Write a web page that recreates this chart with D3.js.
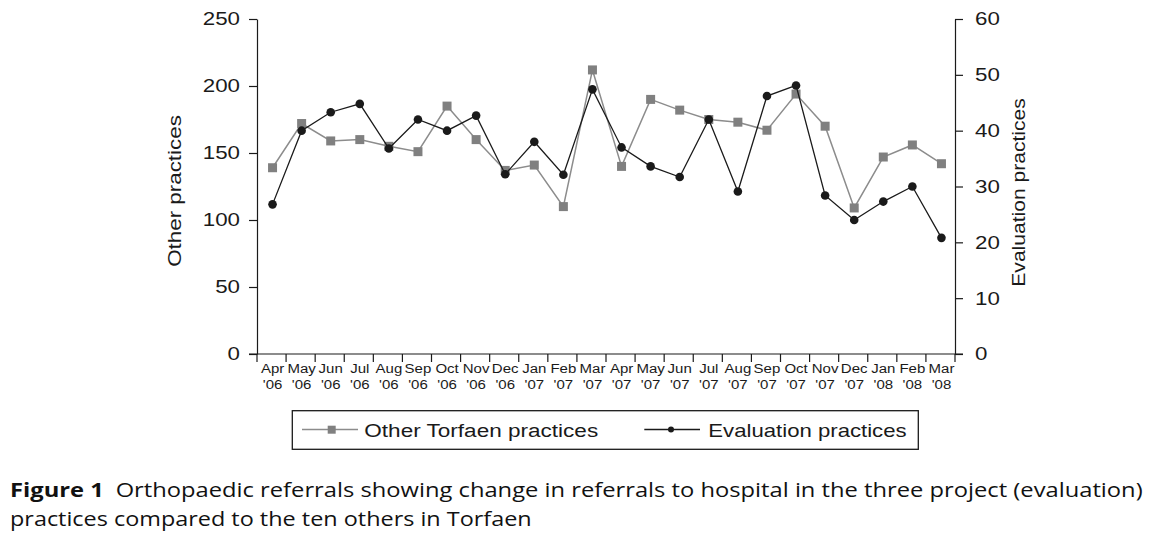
<!DOCTYPE html>
<html><head><meta charset="utf-8">
<script src="https://cdn.jsdelivr.net/npm/d3@7"></script>
<style>body{margin:0;background:#fff;}svg{display:block;}</style>
</head><body>
<svg id="c" width="1163" height="546"></svg>
<script>
const months = ["Apr","May","Jun","Jul","Aug","Sep","Oct","Nov","Dec","Jan","Feb","Mar","Apr","May","Jun","Jul","Aug","Sep","Oct","Nov","Dec","Jan","Feb","Mar"];
const years = ["'06","'06","'06","'06","'06","'06","'06","'06","'06","'07","'07","'07","'07","'07","'07","'07","'07","'07","'07","'07","'07","'08","'08","'08"];
const otherPractices = [139,172,159,160,155,151,185,160,137,141,110,212,140,190,182,175,173,167,194,170,109,147,156,142];
const evaluationPractices = [26.8,40.0,43.3,44.8,36.8,42.0,40.0,42.7,32.2,38.0,32.1,47.4,37.0,33.6,31.7,42.0,29.1,46.2,48.1,28.4,24.0,27.3,30.0,20.8];
const leftTicks = [0,50,100,150,200,250];
const rightTicks = [0,10,20,30,40,50,60];

const svg = d3.select("#c");
const L = 257, R = 955, T = 19, B = 354;
const SX = 1.2, FS = 18.6, INK = "#1a1a1a";
const idx = d3.range(months.length);
const x = d3.scaleBand().domain(idx).range([L, R]);
const yL = d3.scaleLinear().domain([0,250]).range([B,T]);
const yR = d3.scaleLinear().domain([0,60]).range([B,T]);
const font = "'Liberation Sans', Arial, sans-serif";

function widen(sel, sx){
  sel.each(function(){
    const t = d3.select(this);
    const xx = +(t.attr("x")||0);
    t.attr("x", xx/sx).attr("transform", `scale(${sx},1)`);
  });
}
// fit a text element (drawn at origin) to target length along its own direction
function fitText(sel, target){
  const w = sel.node().getComputedTextLength();
  return target / w;
}

// left axis
const gl = svg.append("g").attr("transform",`translate(${L},0)`)
  .call(d3.axisLeft(yL).tickValues(leftTicks).tickSize(8).tickSizeOuter(0).tickPadding(9));
gl.selectAll("text").attr("font-size",FS).attr("font-family",font).attr("fill",INK);
widen(gl.selectAll("text"), SX);
// right axis
const gr = svg.append("g").attr("transform",`translate(${R},0)`)
  .call(d3.axisRight(yR).tickValues(rightTicks).tickSize(8).tickSizeOuter(0).tickPadding(12));
gr.selectAll("text").attr("font-size",FS).attr("font-family",font).attr("fill",INK);
widen(gr.selectAll("text"), SX);
[gl,gr].forEach(g=>{g.selectAll("path,line").attr("stroke",INK).attr("stroke-width",1.2);});
// bottom axis line + ticks at band boundaries
svg.append("line").attr("x1",L-8).attr("x2",R+8).attr("y1",B).attr("y2",B).attr("stroke",INK).attr("stroke-width",1.2);
const bounds = idx.map(i=>x(i)).concat([R]);
svg.append("g").selectAll("line").data(bounds).join("line")
  .attr("x1",d=>d).attr("x2",d=>d).attr("y1",B).attr("y2",B+8).attr("stroke",INK).attr("stroke-width",1.2);

const cx = i => x(i)+x.bandwidth()/2 + 1;
const XSX = 1.25;
const xg = svg.append("g").selectAll("g").data(idx).join("g")
  .attr("transform", i=>`translate(${cx(i)},0) scale(${XSX},1)`);
xg.append("text").attr("y",373.3).attr("text-anchor","middle").attr("font-family",font)
  .attr("font-size",12).attr("fill",INK).text(i=>months[i]);
xg.append("text").attr("y",389).attr("text-anchor","middle").attr("font-family",font)
  .attr("font-size",12).attr("fill",INK).text(i=>years[i]);

// axis titles
const t1 = svg.append("g").attr("transform",`translate(181,191) rotate(-90)`);
const t1t = t1.append("text").attr("text-anchor","middle").attr("font-family",font).attr("font-size",FS).attr("fill",INK).text("Other practices");
t1t.attr("transform",`scale(${fitText(t1t,151.7)},1)`);
const t2 = svg.append("g").attr("transform",`translate(1025,192.5) rotate(-90)`);
const t2t = t2.append("text").attr("text-anchor","middle").attr("font-family",font).attr("font-size",FS).attr("fill",INK).text("Evaluation practices");
t2t.attr("transform",`scale(${fitText(t2t,188.4)},1)`);

// other series
svg.append("path").datum(otherPractices)
  .attr("d",d3.line().x((d,i)=>cx(i)).y(d=>yL(d)))
  .attr("fill","none").attr("stroke","#8c8c8c").attr("stroke-width",1.5);
svg.append("g").selectAll("rect").data(otherPractices).join("rect")
  .attr("x",(d,i)=>cx(i)-4.5).attr("y",d=>yL(d)-4.5).attr("width",9).attr("height",9).attr("fill","#808080");
// evaluation series
svg.append("path").datum(evaluationPractices)
  .attr("d",d3.line().x((d,i)=>cx(i)).y(d=>yR(d)))
  .attr("fill","none").attr("stroke",INK).attr("stroke-width",1.3);
svg.append("g").selectAll("circle").data(evaluationPractices).join("circle")
  .attr("cx",(d,i)=>cx(i)).attr("cy",d=>yR(d)).attr("r",4.3).attr("fill",INK);

// legend
svg.append("rect").attr("x",292.3).attr("y",410.7).attr("width",626).attr("height",38.6)
  .attr("fill","none").attr("stroke",INK).attr("stroke-width",1.3);
svg.append("line").attr("x1",302).attr("x2",358).attr("y1",429.5).attr("y2",429.5).attr("stroke","#8c8c8c").attr("stroke-width",1.3);
svg.append("rect").attr("x",327.7).attr("y",425.7).attr("width",8).attr("height",8).attr("fill","#808080");
const lg1 = svg.append("g").attr("transform","translate(364.3,437.3)");
const lt1 = lg1.append("text").attr("font-family",font).attr("font-size",FS).attr("fill",INK).text("Other Torfaen practices");
lt1.attr("transform",`scale(${fitText(lt1,234)},1)`);
svg.append("line").attr("x1",644.3).attr("x2",700).attr("y1",429.5).attr("y2",429.5).attr("stroke",INK).attr("stroke-width",1.3);
svg.append("circle").attr("cx",671).attr("cy",429.5).attr("r",3).attr("fill",INK);
const lg2 = svg.append("g").attr("transform","translate(708.3,437.3)");
const lt2 = lg2.append("text").attr("font-family",font).attr("font-size",FS).attr("fill",INK).text("Evaluation practices");
lt2.attr("transform",`scale(${fitText(lt2,198.3)},1)`);

// caption
const cap = "'Open Sans', 'Noto Sans', sans-serif";
const cg1 = svg.append("g").attr("transform","translate(10,497)");
const c1 = cg1.append("text").attr("font-family",cap).attr("font-size",20).attr("fill","#111");
c1.append("tspan").attr("font-weight","bold").text("Figure 1");
c1.append("tspan").text("\u2002Orthopaedic referrals showing change in referrals to hospital in the three project (evaluation)");
c1.attr("transform",`scale(${fitText(c1,1133)},1)`);
const cg2 = svg.append("g").attr("transform","translate(10,526)");
const c2 = cg2.append("text").attr("font-family",cap).attr("font-size",20).attr("fill","#111")
  .text("practices compared to the ten others in Torfaen");
c2.attr("transform",`scale(${fitText(c2,522)},1)`);
</script>
</body></html>
